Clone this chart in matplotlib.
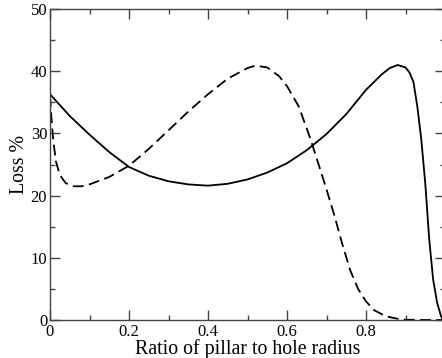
import matplotlib
matplotlib.use("Agg")
import matplotlib.pyplot as plt
from matplotlib.ticker import MultipleLocator

plt.rcParams['font.family'] = ['Liberation Serif', 'DejaVu Serif']

# Solid curve
x_solid = [0.0, 0.05, 0.1, 0.15, 0.2, 0.25, 0.3, 0.35, 0.4, 0.45, 0.5, 0.55,
           0.6, 0.65, 0.7, 0.75, 0.8, 0.84, 0.86, 0.88, 0.9, 0.91, 0.92, 0.93,
           0.94, 0.95, 0.96, 0.97, 0.98, 0.99, 0.995]
y_solid = [36.3, 32.8, 29.8, 27.0, 24.6, 23.2, 22.3, 21.8, 21.6, 21.9, 22.6, 23.7,
           25.2, 27.3, 29.9, 33.1, 37.0, 39.5, 40.5, 41.0, 40.6, 39.8, 38.3, 34.3,
           29.0, 22.0, 13.0, 6.5, 2.8, 0.6, 0.0]

# Dashed curve
x_dash = [0.0, 0.003, 0.008, 0.015, 0.025, 0.04, 0.06, 0.08, 0.1, 0.15, 0.2, 0.25,
          0.3, 0.35, 0.4, 0.45, 0.5, 0.52, 0.55, 0.58, 0.6, 0.63, 0.66, 0.7, 0.72,
          0.74, 0.76, 0.78, 0.8, 0.82, 0.85, 0.88, 0.9, 0.95, 1.0]
y_dash = [36.0, 33.0, 29.0, 25.5, 23.3, 22.0, 21.5, 21.5, 21.8, 23.0, 24.8, 27.5,
          30.5, 33.5, 36.3, 38.8, 40.5, 40.9, 40.6, 39.2, 37.6, 34.3, 29.0, 21.0, 16.8,
          12.2, 8.0, 5.0, 3.0, 1.6, 0.6, 0.2, 0.05, 0.0, 0.0]

xticks = [0, 0.2, 0.4, 0.6, 0.8, 1.0]
xticklabels = ['0', '0.2', '0.4', '0.6', '0.8', '']
yticks = [0, 10, 20, 30, 40, 50]
yticklabels = ['0', '10', '20', '30', '40', '50']

fig = plt.figure(figsize=(4.42, 3.58), dpi=100)
ax = fig.add_axes([50/442, 38/358, 395/442, 311/358])

ax.plot(x_solid, y_solid, color='black', lw=1.3, solid_joinstyle='round')
ax.plot(x_dash, y_dash, color='black', lw=1.3, dashes=(6, 3))

ax.set_xlim(0, 1)
ax.set_ylim(0, 50)
ax.set_xticks(xticks)
ax.set_xticklabels(xticklabels)
ax.set_yticks(yticks)
ax.set_yticklabels(yticklabels)
ax.xaxis.set_minor_locator(MultipleLocator(0.1))
ax.yaxis.set_minor_locator(MultipleLocator(5))
ax.tick_params(which='both', direction='in', top=True, right=True,
               labelsize=12, colors='#444444', labelcolor='black', pad=2)
ax.tick_params(axis='x', which='major', pad=3)
ax.tick_params(which='major', length=7, width=1)
ax.tick_params(which='minor', length=3.5, width=1)
for s in ax.spines.values():
    s.set_color('#444444')
    s.set_linewidth(1)

ax.set_xlabel('Ratio of pillar to hole radius', fontsize=14.3, labelpad=-0.5)
ax.set_ylabel('Loss %', fontsize=14.3, labelpad=1)

fig.savefig('out.png', dpi=100)
